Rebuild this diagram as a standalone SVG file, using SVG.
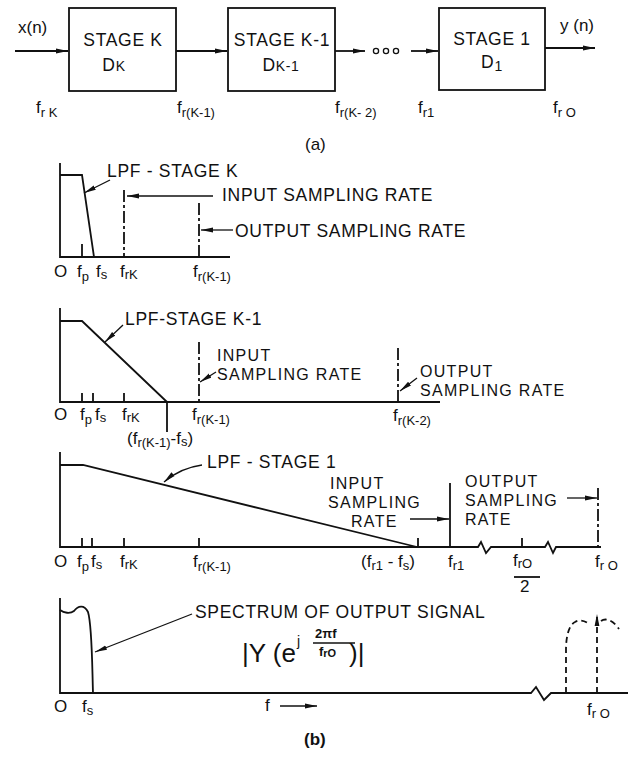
<svg xmlns="http://www.w3.org/2000/svg" width="638" height="757" viewBox="0 0 638 757">
<defs>
<style>
.ln{stroke:#111;stroke-width:1.8;fill:none}
.th{stroke:#111;stroke-width:1.3;fill:none}
.dd{stroke-dasharray:12 3 3 3}
.dsh{stroke-dasharray:6 4}
.bx{stroke:#111;stroke-width:1.8;fill:#fff}
text{font-family:"Liberation Sans",Arial,sans-serif;fill:#111}
.t{font-size:17.5px;letter-spacing:0.7px}
.m{font-size:16px;letter-spacing:1.3px}
.lb{font-size:17px}
.sb{font-size:13px}
</style>
<marker id="ah" viewBox="0 0 12 6" refX="12" refY="3" markerWidth="12" markerHeight="6" orient="auto" markerUnits="userSpaceOnUse"><path d="M0,0.6 L12,3 L0,5.4 z" fill="#111"/></marker>
</defs>
<rect width="638" height="757" fill="#fff"/>

<!-- (a) block diagram -->
<g id="stageK"><rect class="bx" x="69" y="8" width="107" height="83"/><text class="t" x="123" y="46" text-anchor="middle">STAGE K</text><text class="t" x="114" y="71" text-anchor="middle">D<tspan font-size="14">K</tspan></text></g>
<g id="stageK1"><rect class="bx" x="228" y="8" width="107" height="83"/><text class="t" x="282" y="46" text-anchor="middle">STAGE K-1</text><text class="t" x="281" y="71" text-anchor="middle">D<tspan font-size="14">K-1</tspan></text></g>
<g id="stage1"><rect class="bx" x="439" y="8" width="106" height="82"/><text class="t" x="492" y="45" text-anchor="middle">STAGE 1</text><text class="t" x="492" y="68" text-anchor="middle">D<tspan font-size="14" dy="3">1</tspan></text></g>
<g id="dots"><circle class="th" cx="376" cy="51" r="2.6"/><circle class="th" cx="386" cy="51" r="2.6"/><circle class="th" cx="396" cy="51" r="2.6"/></g>
<g id="connectors">
<path class="ln" d="M15,51 H68" marker-end="url(#ah)"/>
<path class="ln" d="M176,51 H227" marker-end="url(#ah)"/>
<path class="ln" d="M335,51 H365" marker-end="url(#ah)"/>
<path class="ln" d="M411,51 H438" marker-end="url(#ah)"/>
<path class="ln" d="M545,48 H595" marker-end="url(#ah)"/>
</g>
<g id="labels-a">
<text class="lb" x="18" y="33">x(n)</text>
<text class="lb" x="560" y="31">y (n)</text>
<text class="lb" x="36" y="113">f<tspan class="sb" dy="4">r K</tspan></text>
<text class="lb" x="177" y="113">f<tspan class="sb" dy="4">r(K-1)</tspan></text>
<text class="lb" x="335" y="113">f<tspan class="sb" dy="4">r(K- 2)</tspan></text>
<text class="lb" x="418" y="113">f<tspan class="sb" dy="4">r1</tspan></text>
<text class="lb" x="553" y="113">f<tspan class="sb" dy="4">r O</tspan></text>
<text class="lb" x="305" y="150">(a)</text>
</g>

<!-- panel 1 -->
<g id="panel1">
<path class="ln" d="M60,163 V257 H230"/>
<path class="ln" d="M60,175 H82 L94,257"/>
<path class="ln" d="M82,244 V257"/>
<path class="ln dd" d="M124,190 V257"/>
<path class="ln dd" d="M199,203 V257"/>
<path class="th" d="M110,180 L84,193" marker-end="url(#ah)"/>
<text class="t" x="107" y="177">LPF - STAGE K</text>
<path class="th" d="M213,196 H127" marker-end="url(#ah)"/>
<text class="t" x="222" y="201">INPUT SAMPLING RATE</text>
<path class="th" d="M233,230 H201" marker-end="url(#ah)"/>
<text class="t" x="235" y="237">OUTPUT SAMPLING RATE</text>
<text class="lb" x="54" y="277">O</text>
<text class="lb" x="77" y="277">f<tspan class="sb" dy="4">p</tspan></text>
<text class="lb" x="96" y="277">f<tspan class="sb" dy="2">s</tspan></text>
<text class="lb" x="120" y="277">f<tspan class="sb" dy="2">rK</tspan></text>
<text class="lb" x="193" y="277">f<tspan class="sb" dy="4">r(K-1)</tspan></text>
</g>

<!-- panel 2 -->
<g id="panel2">
<path class="ln" d="M60,308 V402 H440"/>
<path class="ln" d="M60,321 H82 L167,402"/>
<path class="ln" d="M82,393 V402 M93,393 V402 M124,393 V402 M167,402 V432"/>
<path class="ln dd" d="M199,342 V402"/>
<path class="ln dd" d="M398,348 V402"/>
<path class="th" d="M123,325 L105,342" marker-end="url(#ah)"/>
<text class="t" x="125" y="325">LPF-STAGE K-1</text>
<text class="m" x="217" y="361">INPUT</text>
<text class="m" x="217" y="380">SAMPLING RATE</text>
<path class="th" d="M216,372 L200,382" marker-end="url(#ah)"/>
<text class="m" x="420" y="377">OUTPUT</text>
<text class="m" x="420" y="396">SAMPLING RATE</text>
<path class="th" d="M417,378 L400,391" marker-end="url(#ah)"/>
<text class="lb" x="54" y="420">O</text>
<text class="lb" x="80" y="420">f<tspan class="sb" dy="4">p</tspan></text>
<text class="lb" x="95" y="420">f<tspan class="sb" dy="2">s</tspan></text>
<text class="lb" x="122" y="420">f<tspan class="sb" dy="2">rK</tspan></text>
<text class="lb" x="127" y="444">(f<tspan class="sb" dy="3">r(K-1)</tspan><tspan dy="-3">-f</tspan><tspan class="sb" dy="2">s</tspan><tspan dy="-2">)</tspan></text>
<text class="lb" x="192" y="420">f<tspan class="sb" dy="4">r(K-1)</tspan></text>
<text class="lb" x="393" y="421">f<tspan class="sb" dy="4">r(K-2)</tspan></text>
</g>

<!-- panel 3 -->
<g id="panel3">
<path class="ln" d="M60,452 V547 H478 L481,542 L486,553 L491,547 H545 L548,542 L553,553 L556,547 H601"/>
<path class="ln" d="M60,465 H83 L417,547"/>
<path class="ln" d="M82,538 V547 M92,538 V547 M124,538 V547 M199,538 V547 M418,538 V547 M522,538 V547"/>
<path class="ln" d="M450,483 V547"/>
<path class="ln dd" d="M598,488 V547"/>
<path class="th" d="M202,465 Q180,468 164,482" marker-end="url(#ah)"/>
<text class="t" x="207" y="468">LPF - STAGE 1</text>
<text class="m" x="330" y="489">INPUT</text>
<text class="m" x="328" y="508">SAMPLING</text>
<text class="m" x="351" y="527">RATE</text>
<path class="th" d="M410,519 H449" marker-end="url(#ah)"/>
<text class="m" x="465" y="487">OUTPUT</text>
<text class="m" x="465" y="506">SAMPLING</text>
<text class="m" x="465" y="525">RATE</text>
<path class="th" d="M567,498 H597" marker-end="url(#ah)"/>
<text class="lb" x="54" y="567">O</text>
<text class="lb" x="77" y="567">f<tspan class="sb" dy="4">p</tspan></text>
<text class="lb" x="91" y="567">f<tspan class="sb" dy="2">s</tspan></text>
<text class="lb" x="120" y="567">f<tspan class="sb" dy="2">rK</tspan></text>
<text class="lb" x="193" y="567">f<tspan class="sb" dy="4">r(K-1)</tspan></text>
<text class="lb" x="361" y="567">(f<tspan class="sb" dy="3">r1</tspan><tspan dy="-3"> - f</tspan><tspan class="sb" dy="3">s</tspan><tspan dy="-3">)</tspan></text>
<text class="lb" x="448" y="567">f<tspan class="sb" dy="3">r1</tspan></text>
<text class="lb" x="513" y="566">f<tspan class="sb" dy="2">rO</tspan></text>
<path class="ln" d="M514,577 H540"/>
<text class="lb" x="520" y="592">2</text>
<text class="lb" x="595" y="567">f<tspan class="sb" dy="3">r O</tspan></text>
</g>

<!-- panel 4 -->
<g id="panel4">
<path class="ln" d="M60,598 V693 H531 L536,687 L544,700 L551,693 H628"/>
<path class="ln" d="M60,610 C64,613 70,614 74,611 C78,606 84,604 88,612 C92,625 92,660 93,693"/>
<path class="th" d="M192,614 L95,652" marker-end="url(#ah)"/>
<text class="t" x="195" y="618">SPECTRUM OF OUTPUT SIGNAL</text>
<text x="242" y="662" font-size="26">|Y (e</text>
<text x="297" y="646" font-size="14">j</text>
<text x="315" y="638" font-size="13" font-weight="bold">2πf</text>
<path class="th" d="M313,643 H355"/>
<text x="319" y="656" font-size="13" font-weight="bold">f<tspan font-size="11" dy="1">rO</tspan></text>
<text x="349" y="662" font-size="26">)|</text>
<text class="lb" x="265" y="711">f</text>
<path class="th" d="M280,706 H317" marker-end="url(#ah)"/>
<text class="lb" x="54" y="712">O</text>
<text class="lb" x="82" y="712">f<tspan class="sb" dy="3">s</tspan></text>
<path class="ln dsh" d="M566,693 V650 C566,636 569,625 575,622 C580,619 586,621 590,625 M601,621 C605,618 612,619 619,629"/>
<path class="ln dsh" d="M597,693 V614" marker-end="url(#ah)"/>
<text class="lb" x="587" y="715">f<tspan class="sb" dy="3">r O</tspan></text>
<text class="lb" x="304" y="745" font-weight="bold">(b)</text>
</g>
</svg>
